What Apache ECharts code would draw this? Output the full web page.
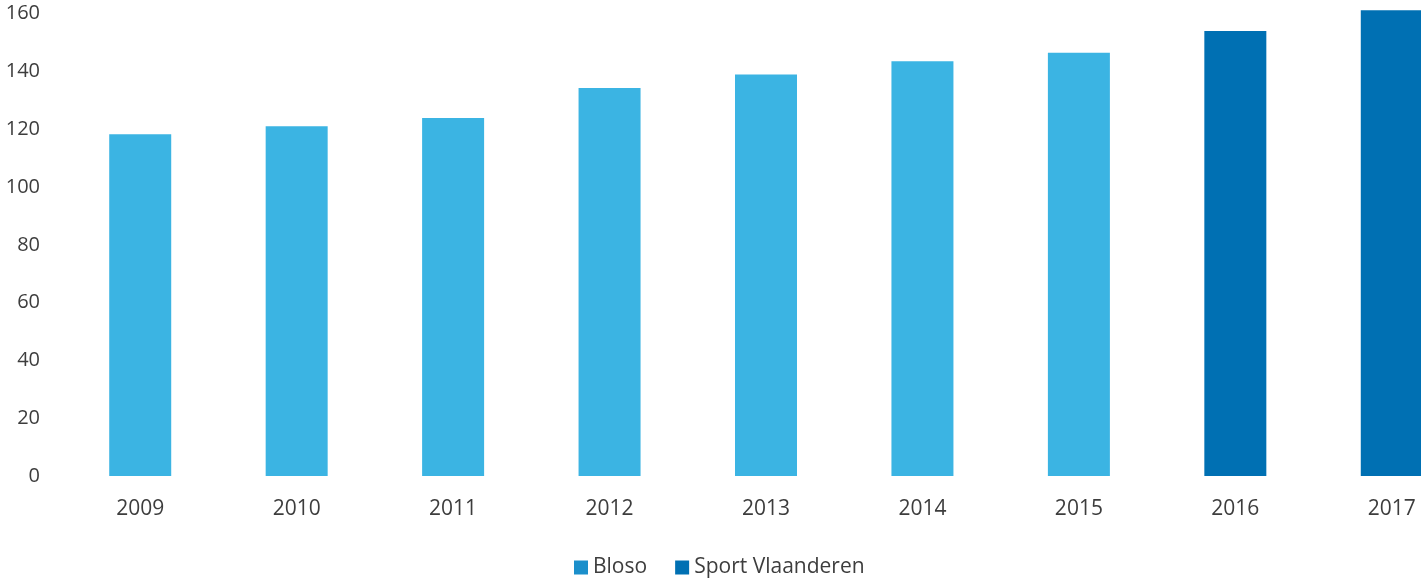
<!DOCTYPE html>
<html>
<head>
<meta charset="utf-8">
<script src="https://cdn.jsdelivr.net/npm/echarts@6/dist/echarts.min.js"></script>
<style>
  html, body { margin: 0; padding: 0; background: #fff; }
  #chart1 { width: 1421px; height: 583px; }
</style>
</head>
<body>
<div id="chart1"></div>
<script>
// container
var chart1 = echarts.init(document.getElementById("chart1"));

// categories (jaren)
var years = ['2009', '2010', '2011', '2012', '2013', '2014', '2015', '2016', '2017'];

// values per organisation ('-' = no bar)
var bloso = [118.3, 121.1, 123.9, 134.3, 139.0, 143.6, 146.5, '-', '-'];
var sportVlaanderen = ['-', '-', '-', '-', '-', '-', '-', 154.0, 161.2];

// y ticks
var yTicks = [0, 20, 40, 60, 80, 100, 120, 140, 160, 180];

var textColor = '#3d3d3d';
var font = "'Open Sans', sans-serif";

var option = {
    animation: false,
    grid: {
        left: 62,
        top: -44,
        width: 1408,
        height: 520,
        containLabel: false,
        outerBoundsMode: 'none'
    },
    legend: {
        left: 569,
        top: 552,
        itemWidth: 14,
        itemHeight: 14,
        itemGap: 28,
        icon: 'rect',
        textStyle: { color: textColor, fontSize: 21, fontFamily: font },
        data: [
            { name: 'Bloso', itemStyle: { color: '#1b8fcb' } },
            { name: 'Sport Vlaanderen', itemStyle: { color: '#0070b3' } }
        ]
    },
    xAxis: {
        type: 'category',
        data: years,
        axisLine: { show: false },
        axisTick: { show: false },
        axisLabel: { color: textColor, fontSize: 21, fontFamily: font, margin: 23 }
    },
    yAxis: {
        type: 'value',
        min: yTicks[0],
        max: yTicks[yTicks.length - 1],
        interval: 20,
        splitLine: { show: false },
        axisLine: { show: false },
        axisTick: { show: false },
        axisLabel: { color: textColor, fontSize: 20, fontFamily: font, margin: 22, padding: [8, 0, 0, 0] }
    },
    series: [
        {
            name: 'Bloso',
            type: 'bar',
            stack: 'total',
            barWidth: 62,
            itemStyle: { color: '#3bb4e3' },
            data: bloso
        },
        {
            name: 'Sport Vlaanderen',
            type: 'bar',
            stack: 'total',
            barWidth: 62,
            itemStyle: { color: '#0070b3' },
            data: sportVlaanderen
        }
    ]
};

chart1.setOption(option);
</script>
</body>
</html>
